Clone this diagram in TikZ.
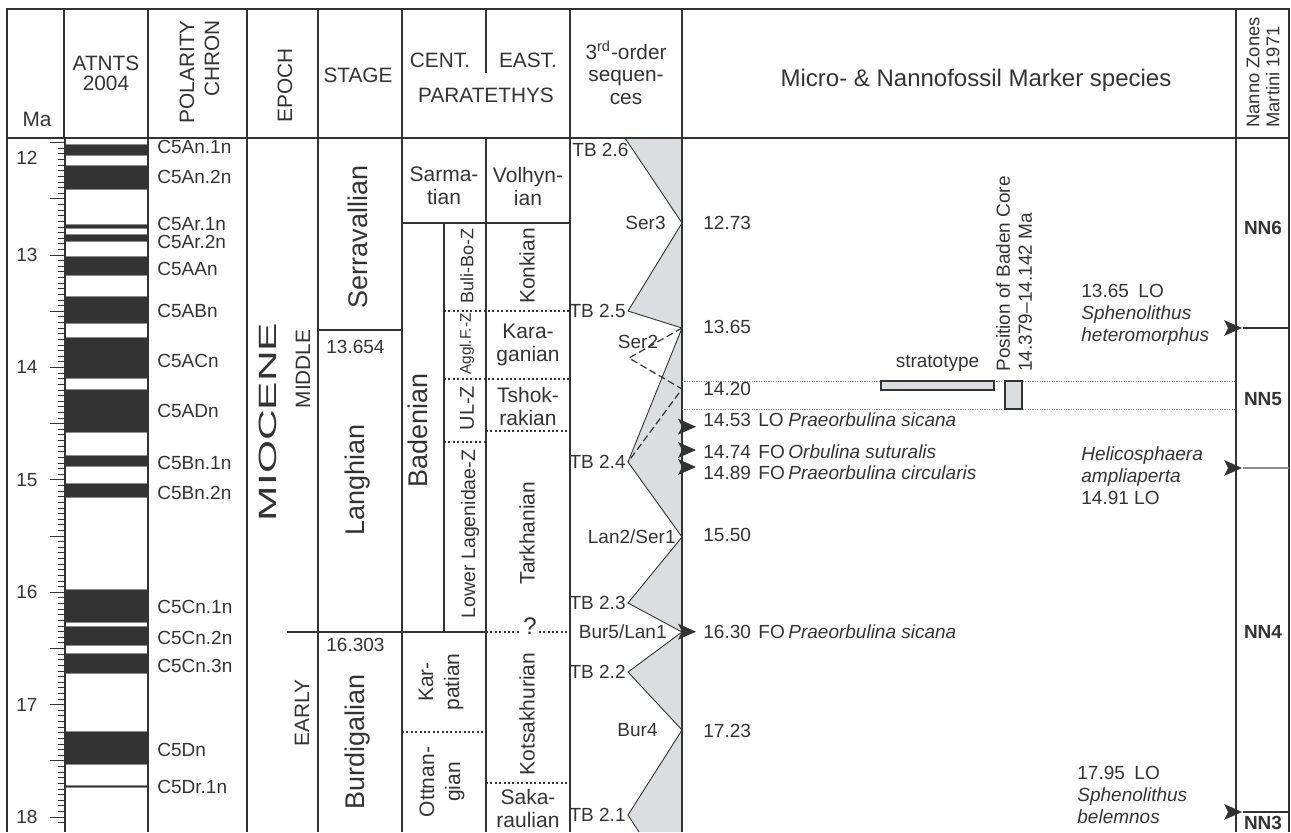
\documentclass[tikz,border=0pt]{standalone}
\usepackage{graphicx}
\usepackage{fontspec}
\setmainfont{Liberation Sans}
\usetikzlibrary{positioning}

\definecolor{ink}{HTML}{333333}
\definecolor{seqfill}{HTML}{DCDDE0}
\definecolor{guide}{HTML}{8C8C8C}

\newcommand{\fs}[2]{\fontsize{#1}{#2}\selectfont}

\tikzset{
    rule/.style={line width=0.7pt},
    heavy/.style={line width=1.2pt},
    dotrule/.style={line width=0.6pt, dash pattern=on 1pt off 1.2pt},
    hdr/.style={font=\fs{10.4}{11.2}, inner sep=0pt},
    txt/.style={font=\fs{9.5}{11}, inner sep=0pt},
    unit/.style={font=\fs{10.5}{11.5}, inner sep=0pt, align=center},
    big/.style={font=\fs{13.5}{15}, inner sep=0pt},
    zone/.style={font=\bfseries\fs{9.5}{11}, inner sep=0pt},
    pics/flag/.style={code={\fill (-10,-8) -- (8,0) -- (-10,8) -- (-6,0) -- cycle;}},
}

\begin{document}
\begin{tikzpicture}[x=0.5pt, y=-0.5pt, color=ink,
        declare function={ma(\q)=142.6+112.4*(\q-12);}]
    \useasboundingbox (0,0) rectangle (1291,832);
    \clip (0,0) rectangle (1291,832);

    % polarity bars (ATNTS 2004)
    \foreach \a/\b/\n/\l [count=\i] in {
            12.014/12.116/C5An.1n/12.04,
            12.207/12.415/C5An.2n/12.31,
            12.730/12.765/C5Ar.1n/12.722,
            12.820/12.878/C5Ar.2n/12.888,
            13.015/13.183/C5AAn/13.125,
            13.369/13.605/C5ABn/13.495,
            13.734/14.095/C5ACn/13.945,
            14.194/14.581/C5ADn/14.39,
            14.784/14.877/C5Bn.1n/14.85,
            15.032/15.160/C5Bn.2n/15.12,
            15.974/16.268/C5Cn.1n/16.13,
            16.303/16.472/C5Cn.2n/16.41,
            16.543/16.721/C5Cn.3n/16.66,
            17.235/17.533/C5Dn/17.40,
            17.717/17.740/C5Dr.1n/17.73}{
        \filldraw[fill=ink, draw=guide, line width=0.4pt] (65,{ma(\a)}) rectangle (148,{ma(\b)});
        \node[txt, anchor=west] (chron\i) at (157,{ma(\l)}) {\n};
    }

    % Ma scale
    \foreach \t in {12.05,12.10,...,18.10}
        \draw[line width=0.4pt] (58,{ma(\t)}) -- (65,{ma(\t)});
    \foreach \t in {12,12.5,...,18}
        \draw[line width=0.5pt] (50,{ma(\t)}) -- (65,{ma(\t)});
    \foreach \t in {13,...,18}
        \node[txt] (ma\t) at (27,{ma(\t)}) {\t};
    \node[txt] (ma12) at (27,158) {12};

    % 3rd-order sequences
    \coordinate (tb26) at (625,138);
    \coordinate (ser3) at (682,223);
    \coordinate (tb25) at (628,311);
    \coordinate (ser2) at (682,328);
    \coordinate (tb24) at (628,462);
    \coordinate (ser1) at (682,537);
    \coordinate (tb23) at (628,603);
    \coordinate (lan1) at (682,632);
    \coordinate (tb22) at (628,672);
    \coordinate (bur4) at (682,730);
    \coordinate (tb21) at (628,815);
    \coordinate (seqend) at (639,832);
    \coordinate (kink1) at (629,358);
    \coordinate (kink2) at (682,389);

    \fill[seqfill] (tb26) -- (ser3) -- (tb25) -- (ser2) -- (tb24) -- (ser1) -- (tb23)
        -- (lan1) -- (tb22) -- (bur4) -- (tb21) -- (seqend) -- (682,832) -- (682,138) -- cycle;
    \draw[line width=0.45pt] (tb26) -- (ser3) -- (tb25) -- (ser2) -- (tb24) -- (ser1) -- (tb23)
        -- (lan1) -- (tb22) -- (bur4) -- (tb21) -- (seqend);
    \draw[line width=0.6pt, dash pattern=on 3.5pt off 1.8pt] (ser2) -- (kink1) -- (kink2) -- (tb24);

    \node[txt, anchor=west] (ltb26) at (572,150) {TB 2.6};
    \node[txt, anchor=east] (lser3) at ([xshift=-8pt]ser3) {Ser3};
    \node[txt, anchor=east] (ltb25) at ([xshift=-1pt]tb25) {TB 2.5};
    \node[txt] (lser2) at (638,342) {Ser2};
    \node[txt, anchor=east] (ltb24) at ([xshift=-1pt]tb24) {TB 2.4};
    \node[txt, anchor=east] (lser1) at ([xshift=-3pt]ser1) {Lan2/Ser1};
    \node[txt, anchor=east] (ltb23) at ([xshift=-1pt]tb23) {TB 2.3};
    \node[txt, anchor=east] (llan1) at ([xshift=-7.5pt]lan1) {Bur5/Lan1};
    \node[txt, anchor=east] (ltb22) at ([xshift=-1pt]tb22) {TB 2.2};
    \node[txt, anchor=east] (lbur4) at ([xshift=-12pt]bur4) {Bur4};
    \node[txt, anchor=east] (ltb21) at ([xshift=-1pt]tb21) {TB 2.1};

    % column rules and frame
    \draw[rule] (64,9) -- (64,138);
    \draw[rule] (65,138) -- (65,832);
    \foreach \x in {148,247,318,402,570}
        \draw[rule] (\x,9) -- (\x,832);
    \draw[rule] (486,9) -- (486,73);
    \draw[rule] (486,138) -- (486,832);
    \draw[heavy] (682,9) -- (682,832);
    \draw[heavy] (1236,9) -- (1236,832);
    \draw[rule] (7,138) -- (1289,138);
    \draw[heavy] (7,832) -- (7,9) -- (1289,9) -- (1289,832);

    % header
    \node[hdr] (hma) at (37,119) {Ma};
    \node[hdr, align=center, font=\fs{10.4}{10}] (hatnts) at (106,73) {ATNTS\\2004};
    \node[hdr, rotate=90, anchor=east, align=right, font=\fs{10.4}{12.5}] (hchron) at (199.5,20) {POLARITY\\CHRON};
    \node[hdr, rotate=90, anchor=west] (hepoch) at (285,123) {EPOCH};
    \node[hdr] (hstage) at (358,75) {STAGE};
    \node[hdr] (hcent) at (440,60) {CENT.};
    \node[hdr] (heast) at (528,60) {EAST.};
    \node[hdr] (hpara) at (486,95) {PARATETHYS};
    \node[hdr, align=center, font=\fs{10.4}{11.3}] (hseq) at (626,73) {3\textsuperscript{rd}-order\\sequen-\\ces};
    \node[hdr, font=\fs{12}{13}] (hmark) at (976,80) {Micro- \& Nannofossil Marker species};
    \node[hdr, rotate=90, anchor=west, align=left, font=\fs{9.2}{10}] (hnanno) at (1263,128) {Nanno Zones\\Martini 1971};

    % epoch
    \node[inner sep=0pt, rotate=90, font=\fs{12.5}{13}] (miocene) at (268,422) {\scalebox{1.7}[1]{MIOCENE}};
    \node[hdr, rotate=90] (middle) at (303,369) {MIDDLE};
    \node[hdr, rotate=90] (early) at (302,713) {EARLY};
    \draw[rule] (287,632) -- (318,632);

    % stage
    \draw[rule] (318,330) -- (402,330);
    \draw[rule] (318,632) -- (486,632);
    \node[big, rotate=90] (serrav) at (358,237) {Serravallian};
    \node[txt, anchor=west] (b13654) at (326,347) {13.654};
    \node[big, rotate=90] (langh) at (358,480) {Langhian};
    \node[txt, anchor=west] (b16303) at (326,645) {16.303};
    \node[big, rotate=90] (burdi) at (358,742) {Burdigalian};

    % central and eastern Paratethys
    \draw[rule] (402,223) -- (570,223);
    \draw[rule] (444,223) -- (444,632);
    \draw[dotrule] (444,311) -- (570,311);
    \draw[dotrule] (444,379) -- (570,379);
    \draw[dotrule] (486,431) -- (570,431);
    \draw[dotrule] (444,442) -- (486,442);
    \draw[dotrule] (486,632) -- (570,632);
    \draw[dotrule] (402,732) -- (486,732);
    \draw[dotrule] (486,783) -- (570,783);
    \node[unit, fill=white, inner xsep=1pt, font=\fs{12}{13}] (query) at (530,626) {?};

    \node[unit] (sarm) at (444,186) {Sarma-\\tian};
    \node[unit] (volh) at (528,186) {Volhyn-\\ian};
    \node[big, rotate=90] (baden) at (418,430) {Badenian};
    \node[txt, rotate=90, font=\fs{9}{10}] (bulibo) at (467,266) {Buli-Bo-Z};
    \node[txt, rotate=90, font=\fs{7.7}{9}] (aggl) at (467,344) {Aggl.F.-Z};
    \node[txt, rotate=90, font=\fs{10}{11}] (ulz) at (467,408) {UL-Z};
    \node[txt, rotate=90, font=\fs{9.75}{11}] (lowlag) at (470,534) {Lower Lagenidae-Z};
    \node[unit, rotate=90] (konk) at (527,266) {Konkian};
    \node[unit] (karag) at (528,345) {Kara-\\ganian};
    \node[unit] (tshok) at (528,406) {Tshok-\\rakian};
    \node[unit, rotate=90] (tarkh) at (527,533) {Tarkhanian};
    \node[unit, rotate=90] (kotsa) at (527,714) {Kotsakhurian};
    \node[unit] (sakar) at (528,808) {Saka-\\raulian};
    \node[unit, rotate=90, font=\fs{10.5}{13}] (karp) at (441,682) {Kar-\\patian};
    \node[unit, rotate=90, font=\fs{10.5}{13}] (ottn) at (442,782) {Ottnan-\\gian};

    % marker species
    \draw[guide, line width=0.4pt, dash pattern=on 0.6pt off 0.6pt] (682,381) -- (1236,381);
    \draw[guide, line width=0.4pt, dash pattern=on 0.6pt off 0.6pt] (682,409) -- (1236,409);
    \node[draw, fill=seqfill, line width=1pt, inner sep=0pt, minimum width=56.5pt, minimum height=4.5pt] (strato) at (937.5,385.5) {};
    \node[txt, above=4pt of strato] (lstrato) {stratotype};
    \node[draw, fill=seqfill, line width=1pt, inner sep=0pt, minimum width=8.5pt, minimum height=14pt] (core) at (1013.5,395) {};
    \node[txt, rotate=90, anchor=west, align=left] (lcore) at (1014,372) {Position of Baden Core\\14.379--14.142 Ma};

    \foreach \y/\age [count=\i] in {223/12.73, 327/13.65, 389/14.20, 535/15.50, 730.7/17.23}
        \node[txt, anchor=west] (seqage\i) at (703,\y) {\age};
    \foreach \y/\age/\kind/\sp [count=\i] in {
            420/14.53/LO/Praeorbulina sicana,
            451.7/14.74/FO/Orbulina suturalis,
            473/14.89/FO/Praeorbulina circularis,
            631.7/16.30/FO/Praeorbulina sicana}{
        \node[txt, anchor=west] (fage\i) at (703,\y) {\age};
        \node[txt, anchor=west] (fkind\i) at (758,\y) {\kind};
        \node[txt, anchor=west, font=\itshape\fs{9.5}{11}] (fsp\i) at (788,\y) {\sp};
    }
    \pic (fa1) at (688,426.7) {flag};
    \pic (fa2) at (688,450) {flag};
    \pic (fa3) at (688,467) {flag};
    \pic (fa4) at (688,631.7) {flag};

    \node[txt, anchor=west, align=left] (nhet) at (1081,315) {13.65\enspace LO\\\textit{Sphenolithus}\\\textit{heteromorphus}};
    \node[txt, anchor=west, align=left] (namp) at (1081,475.5) {\textit{Helicosphaera}\\\textit{ampliaperta}\\14.91 LO};
    \node[txt, anchor=west, align=left] (nbel) at (1077,795) {17.95\enspace LO\\\textit{Sphenolithus}\\\textit{belemnos}};
    \pic (na1) at (1234,328) {flag};
    \pic (na2) at (1234,468) {flag};
    \pic (na3) at (1234,812) {flag};

    % nanno zones
    \draw[rule] (1243,328) -- (1289,328);
    \draw[rule, guide] (1243,468) -- (1289,468);
    \draw[rule] (1243,812) -- (1289,812);
    \node[zone] (nn6) at (1263,228) {NN6};
    \node[zone] (nn5) at (1263,399) {NN5};
    \node[zone] (nn4) at (1263,632) {NN4};
    \node[zone] (nn3) at (1263,823) {NN3};
\end{tikzpicture}
\end{document}
